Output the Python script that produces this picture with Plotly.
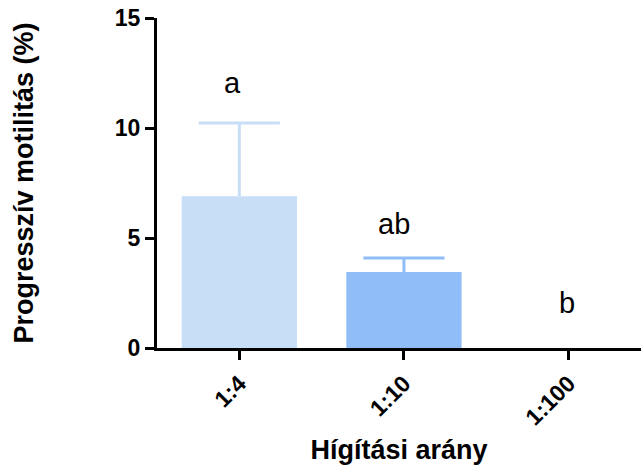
import plotly.graph_objects as go

categories = ["1:4", "1:10", "1:100"]
means = [6.9, 3.45, 0.0]
errors_up = [3.33, 0.64, 0.0]
bar_colors = ["#C8DDF6", "#90BDF8", "#5A9BEF"]
letters = ["a", "ab", "b"]
letter_y = [12.05, 5.62, 2.05]
letter_xshift = [-7, -10, -2]

FONT = "Arial, Liberation Sans, sans-serif"

fig = go.Figure()
for i, c in enumerate(categories):
    fig.add_trace(go.Bar(
        x=[c], y=[means[i]], width=0.7,
        marker=dict(color=bar_colors[i], line=dict(width=0)),
        showlegend=False, hoverinfo="skip",
    ))
    if errors_up[i] > 0:
        top = means[i] + errors_up[i]
        # stem of the upward error bar
        fig.add_trace(go.Scatter(
            x=[c, c], y=[means[i], top], mode="lines",
            line=dict(color=bar_colors[i], width=3),
            showlegend=False, hoverinfo="skip",
        ))
        # cap of the upward error bar
        fig.add_trace(go.Scatter(
            x=[c], y=[top], mode="markers",
            marker=dict(symbol="line-ew", size=58,
                        line=dict(color=bar_colors[i], width=3)),
            showlegend=False, hoverinfo="skip",
        ))

for i, c in enumerate(categories):
    fig.add_annotation(
        x=c, y=letter_y[i], text=letters[i], showarrow=False,
        xshift=letter_xshift[i], yanchor="middle",
        font=dict(family=FONT, size=29, color="black"),
    )

fig.update_layout(
    width=641, height=465,
    margin=dict(l=157, r=0, t=18, b=117),
    paper_bgcolor="white", plot_bgcolor="white",
    barmode="overlay",
    font=dict(family=FONT, color="black"),
)
fig.update_xaxes(
    type="category", categoryorder="array", categoryarray=categories,
    range=[-0.5, 2.44],
    showline=True, linewidth=3, linecolor="black",
    ticks="outside", ticklen=9, tickwidth=3, tickcolor="black",
    tickangle=-45, ticklabelstandoff=1,
    tickfont=dict(family=FONT, size=23, color="black", weight="bold"),
    showgrid=False, zeroline=False,
    title=dict(text="<b>Hígítási arány</b>", standoff=14,
               font=dict(family=FONT, size=27, color="black")),
)
fig.update_yaxes(
    range=[0, 15], tickvals=[0, 5, 10, 15],
    showline=True, linewidth=3, linecolor="black",
    ticks="outside", ticklen=9, tickwidth=3, tickcolor="black",
    tickfont=dict(family=FONT, size=23, color="black", weight="bold"),
    showgrid=False, zeroline=False,
    title=dict(text="<b>Progresszív motilitás (%)</b>", standoff=74,
               font=dict(family=FONT, size=27, color="black")),
)

fig.write_html("out.html")
